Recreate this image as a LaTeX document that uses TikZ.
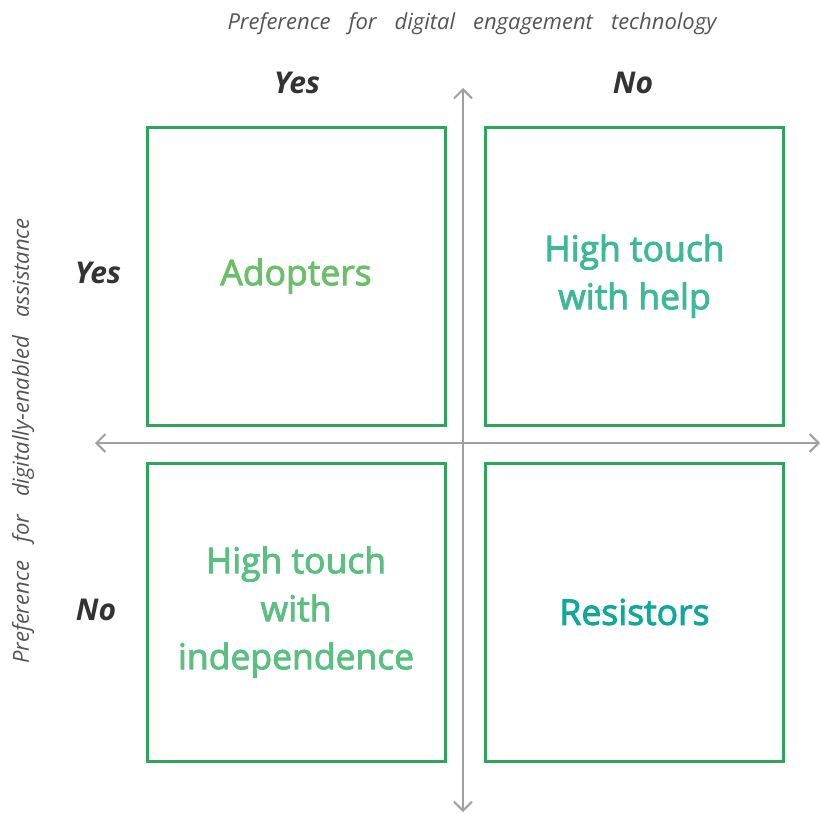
\documentclass[tikz,border=0pt]{standalone}
\usepackage{fontspec}
\setmainfont{Open Sans}
\newfontfamily\semifont{Open Sans}[FakeBold=2.6]
\usetikzlibrary{arrows.meta}
\definecolor{boxgreen}{HTML}{2EA55A}
\definecolor{axisgray}{HTML}{A0A0A0}
\definecolor{labgray}{HTML}{555555}
\definecolor{yesno}{HTML}{333333}
\definecolor{cAdopt}{HTML}{6ABF69}
\definecolor{cHelp}{HTML}{3FB89A}
\definecolor{cIndep}{HTML}{5CBF82}
\definecolor{cResist}{HTML}{10A898}
\begin{document}
\begin{tikzpicture}[x=1pt,y=-1pt,
  quad/.style={draw=boxgreen,line width=3pt,minimum width=298pt,minimum height=298pt,inner sep=0pt,align=center,font=\semifont\fontsize{35.5}{48}\selectfont},
  axis/.style={draw=axisgray,line width=2.2pt,{Straight Barb[length=9pt,width=18pt,line width=2pt]}-{Straight Barb[length=9pt,width=18pt,line width=2pt]}},
  yn/.style={font=\fontsize{30}{32}\selectfont\bfseries\itshape,text=yesno},
  axlab/.style={font=\fontsize{22}{24}\selectfont\itshape,text=labgray}]
\useasboundingbox (0,0) rectangle (820,814);
\node[quad,text=cAdopt] (tl) at (296,276) {Adopters};
\node[quad,text=cHelp] (tr) at (634.5,276) {High touch\\with help};
\node[quad,text=cIndep] (bl) at (296,612) {High touch\\with\\independence};
\node[quad,text=cResist] (br) at (634.5,612) {Resistors};
\coordinate (top) at (463,88);
\coordinate (bot) at (463,812);
\coordinate (lft) at (95,443);
\coordinate (rgt) at (820,443);
\draw[axis] (bot) -- (top);
\draw[axis] (rgt) -- (lft);
\node[axlab] (xl) at (472,24) {Preference\hspace{18pt}for\hspace{18pt}digital\hspace{18pt}engagement\hspace{18pt}technology};
\node[axlab,rotate=90] (yl) at (23,441) {Preference\hspace{18pt}for\hspace{18pt}digitally-enabled\hspace{18pt}assistance};
\node[yn] (xyes) at (297,83) {Yes};
\node[yn] (xno) at (633,83) {No};
\node[yn] (yyes) at (98,273) {Yes};
\node[yn] (yno) at (96,610) {No};
\end{tikzpicture}
\end{document}
